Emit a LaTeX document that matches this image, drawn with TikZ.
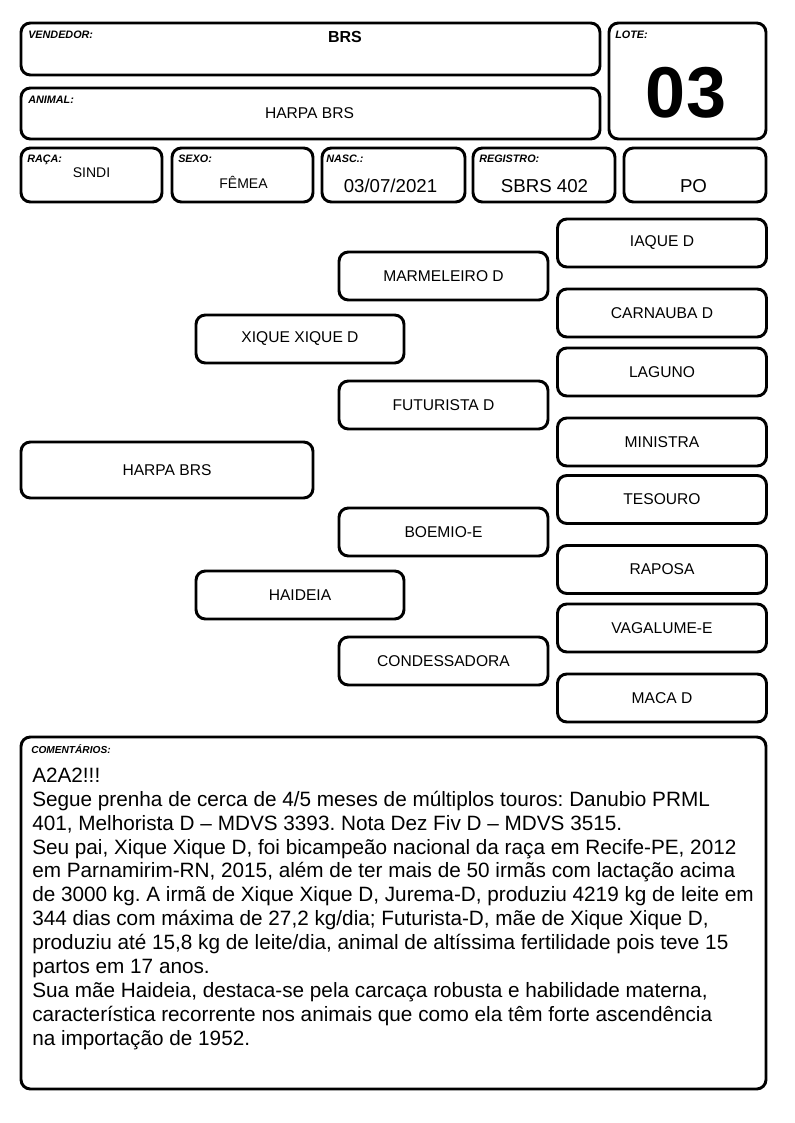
\documentclass[tikz,border=0pt]{standalone}
\usepackage{fontspec}
\setmainfont{Liberation Sans}
\frenchspacing
\tikzset{
  box/.style={draw, line width=2.2pt, rounded corners=7pt, inner sep=0pt, outer sep=0pt},
  sz/.style 2 args={minimum width={#1*0.75pt}, minimum height={#2*0.75pt}},
  tag/.style={font=\fontsize{8.1}{9}\selectfont\bfseries\itshape, anchor=base west, inner sep=0pt},
  ped/.style={box, font=\fontsize{11.7}{13}\selectfont},
  val/.style={anchor=base, inner sep=0pt},
  c2/.style={ped, sz={209}{48}},
  c3/.style={ped, sz={209}{48}}
}
\begin{document}
\begin{tikzpicture}[x=0.75pt,y=-0.75pt]
\useasboundingbox (0,0) rectangle (794,1123);
% header boxes
\node[box, sz={579}{52}] (vend) at (310.5,49) {};
\node[box, sz={579}{51}] (anim) at (310.5,113.5) {};
\node[box, sz={157}{116}] (lote) at (687.5,81) {};
\node[box, sz={141}{54}] (raca) at (91.5,175) {};
\node[box, sz={141}{54}] (sexo) at (242.5,175) {};
\node[box, sz={143}{54}] (nasc) at (393.5,175) {};
\node[box, sz={142}{54}] (reg) at (544,175) {};
\node[box, sz={142}{54}] (po) at (695,175) {};
% tags
\node[tag] (tvend) at (28,39) {VENDEDOR:};
\node[tag] (tanim) at (28,103.5) {ANIMAL:};
\node[tag] (tlote) at (615,39) {LOTE:};
\node[tag] (traca) at (27,163) {RAÇA:};
\node[tag] (tsexo) at (178,163) {SEXO:};
\node[tag] (tnasc) at (326,163) {NASC.:};
\node[tag] (treg) at (479,163) {REGISTRO:};
% values
\node[val, font=\fontsize{12}{14}\selectfont\bfseries] (vvend) at (345,43) {BRS};
\node[val, font=\fontsize{11.7}{13}\selectfont] (vanim) at (309.5,119) {HARPA BRS};
\node[val, font=\fontsize{54}{60}\selectfont\bfseries] (vlote) at (686,118) {03};
\node[val, font=\fontsize{10.5}{12}\selectfont] (vraca) at (91.5,178) {SINDI};
\node[val, font=\fontsize{10.5}{12}\selectfont] (vsexo) at (243.5,189) {FÊMEA};
\node[val, font=\fontsize{14}{16}\selectfont] (vnasc) at (390.5,193) {03/07/2021};
\node[val, font=\fontsize{14}{16}\selectfont] (vreg) at (544.5,193) {SBRS 402};
\node[val, font=\fontsize{14}{16}\selectfont] (vpo) at (693.5,193) {PO};
% pedigree
\node[ped, sz={292}{56}] (harpa) at (167,470) {HARPA BRS};
\node[ped, sz={208}{48}] (xique) at (300,339) {XIQUE XIQUE D};
\node[ped, sz={208}{48}] (haideia) at (300,595) {HAIDEIA};
\node[c2] (marm) at (443.5,276) {MARMELEIRO D};
\node[c2] (futu) at (443.5,405) {FUTURISTA D};
\node[c2] (boem) at (443.5,532) {BOEMIO-E};
\node[c2] (cond) at (443.5,661) {CONDESSADORA};
\node[c3] (iaque) at (662,243) {IAQUE D};
\node[c3] (carn) at (662,313) {CARNAUBA D};
\node[c3] (lagu) at (662,372) {LAGUNO};
\node[c3] (mini) at (662,442) {MINISTRA};
\node[c3] (teso) at (662,499.5) {TESOURO};
\node[c3] (rapo) at (662,569.5) {RAPOSA};
\node[c3] (vaga) at (662,628) {VAGALUME-E};
\node[c3] (maca) at (662,698) {MACA D};
% comments
\node[box, sz={745}{352}] (com) at (393.5,913) {};
\node[tag, font=\fontsize{7.6}{8}\selectfont\bfseries\itshape] (tcom) at (31,753) {COMENTÁRIOS:};
\node[anchor=base west, inner sep=0pt, align=left, font=\fontsize{15.55}{17.9}\selectfont] (ctext) at (32,1045) {A2A2!!!\\
Segue prenha de cerca de 4/5 meses de múltiplos touros: Danubio PRML\\
401, Melhorista D – MDVS 3393. Nota Dez Fiv D – MDVS 3515.\\
Seu pai, Xique Xique D, foi bicampeão nacional da raça em Recife-PE, 2012\\
em Parnamirim-RN, 2015, além de ter mais de 50 irmãs com lactação acima\\
de 3000 kg. A irmã de Xique Xique D, Jurema-D, produziu 4219 kg de leite em\\
344 dias com máxima de 27,2 kg/dia; Futurista-D, mãe de Xique Xique D,\\
produziu até 15,8 kg de leite/dia, animal de altíssima fertilidade pois teve 15\\
partos em 17 anos.\\
Sua mãe Haideia, destaca-se pela carcaça robusta e habilidade materna,\\
característica recorrente nos animais que como ela têm forte ascendência\\
na importação de 1952.};
\end{tikzpicture}
\end{document}
